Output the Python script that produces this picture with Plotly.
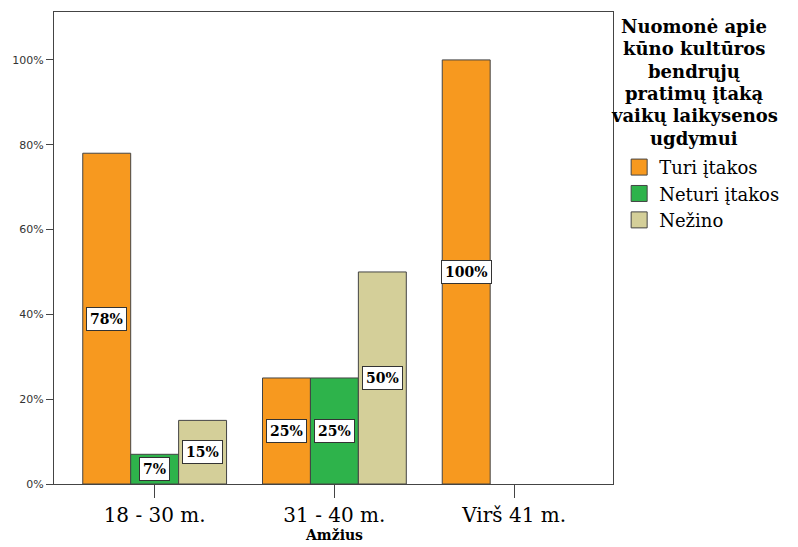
import plotly.graph_objects as go

categories = ["18 - 30 m.", "31 - 40 m.", "Virš 41 m."]
series_names = ["Turi įtakos", "Neturi įtakos", "Nežino"]
turi = [78, 25, 100]
neturi = [7, 25, None]
nezino = [15, 50, None]
series_values = [turi, neturi, nezino]
colors = ["#F7991F", "#2EB34B", "#D4CF99"]
y_ticks = [0, 20, 40, 60, 80, 100]
y_tick_labels = ["0%", "20%", "40%", "60%", "80%", "100%"]
legend_title_lines = ["Nuomonė apie", "kūno kultūros", "bendrųjų",
                      "pratimų įtaką", "vaikų laikysenos", "ugdymui"]
x_title = "Amžius"

SERIF = "DejaVu Serif, serif"
EDGE = "#444444"
bargap = 0.2
w = (1 - bargap) / 3

W, H = 798, 547
ML, MR, MT, MB = 54, 185, 12, 63
plot_h = H - MT - MB

fig = go.Figure()
annotations = []
for j, (name, vals, col) in enumerate(zip(series_names, series_values, colors)):
    fig.add_trace(go.Bar(
        x=categories, y=vals, name=name, showlegend=False,
        marker=dict(color=col, line=dict(color=EDGE, width=1)),
        hoverinfo="skip",
    ))
    for i, v in enumerate(vals):
        if v is None:
            continue
        annotations.append(dict(
            x=i + (j - 1) * w, y=v / 2, xref="x", yref="y",
            text=f"<b>{v}%</b>", showarrow=False,
            font=dict(family=SERIF, size=14, color="black"),
            bgcolor="white", bordercolor="#333333", borderwidth=1, borderpad=3,
        ))

# legend entries with larger square swatches
for name, col in zip(series_names, colors):
    fig.add_trace(go.Scatter(
        x=[None], y=[None], mode="markers", name=name, showlegend=True,
        marker=dict(symbol="square", size=16, color=col, line=dict(color=EDGE, width=1)),
        hoverinfo="skip",
    ))

# legend title, one line per annotation for tight line spacing
for k, line in enumerate(legend_title_lines):
    ypix = 26 + k * 22.5
    annotations.append(dict(
        xref="paper", yref="paper", x=(694 - ML) / (W - ML - MR),
        y=1 - (ypix - MT) / plot_h, xanchor="center", yanchor="middle",
        text="<b>" + line + "</b>", showarrow=False,
        font=dict(family=SERIF, size=18, color="black"),
    ))

# x axis title
annotations.append(dict(
    xref="paper", yref="paper", x=0.5, y=-(535 - (H - MB)) / plot_h,
    xanchor="center", yanchor="middle", showarrow=False,
    text="<b>" + x_title + "</b>",
    font=dict(family=SERIF, size=14, color="black"),
))

fig.update_layout(
    width=W, height=H,
    margin=dict(l=ML, r=MR, t=MT, b=MB, autoexpand=False),
    paper_bgcolor="white", plot_bgcolor="white",
    barmode="group", bargap=bargap, bargroupgap=0,
    showlegend=True,
    legend=dict(
        x=1.011, y=0.71, xanchor="left", yanchor="top",
        font=dict(family=SERIF, size=18, color="black"),
        tracegroupgap=0, itemsizing="trace",
        bgcolor="rgba(0,0,0,0)",
    ),
    annotations=annotations,
    xaxis=dict(
        type="category", range=[-0.56, 2.55], automargin=False,
        showline=True, linecolor=EDGE, linewidth=1, mirror=True,
        ticks="outside", ticklen=13, tickcolor=EDGE,
        tickfont=dict(family=SERIF, size=20, color="black"),
        showgrid=False, fixedrange=True,
    ),
    yaxis=dict(
        range=[0, 111.3], tickvals=y_ticks, ticktext=y_tick_labels, automargin=False,
        showline=True, linecolor=EDGE, linewidth=1, mirror=True,
        ticks="outside", ticklen=7, tickcolor=EDGE,
        tickfont=dict(family="DejaVu Sans, Verdana, sans-serif", size=11, color="#333333"),
        showgrid=False, zeroline=False, fixedrange=True,
    ),
)

fig.write_html("out.html", config={"displayModeBar": False},
               post_script="document.body.style.margin='0';")
